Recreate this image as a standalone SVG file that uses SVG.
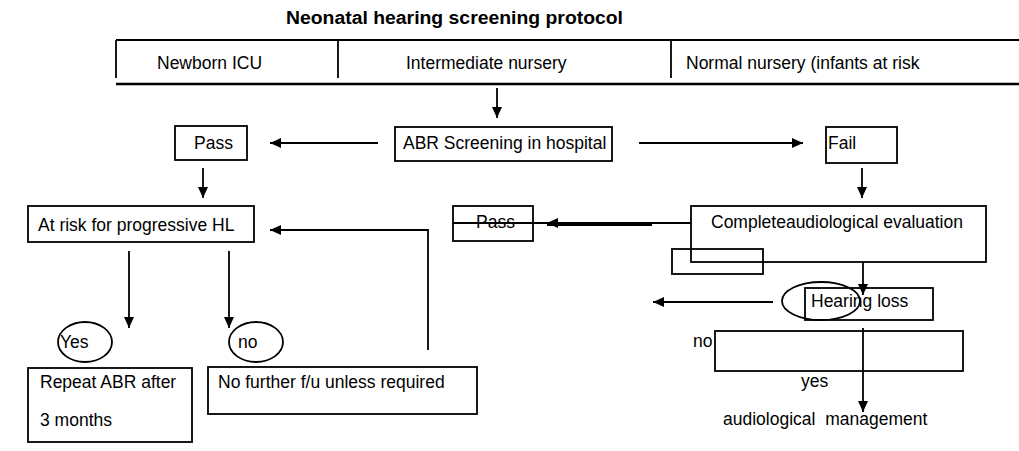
<svg xmlns="http://www.w3.org/2000/svg" width="1019" height="451" viewBox="0 0 1019 451">
<style>
.t{font-family:"Liberation Sans",Arial,sans-serif;font-size:17.5px;fill:#000}
.title{font-family:"Liberation Sans",Arial,sans-serif;font-size:18px;font-weight:bold;fill:#000}
.b{fill:none;stroke:#000;stroke-width:1.8}
.c{fill:none;stroke:#000;stroke-width:1.8}
</style>
<defs>
<marker id="ah" markerUnits="userSpaceOnUse" markerWidth="11" markerHeight="10" refX="11" refY="5" orient="auto">
<path d="M0,0 L11,5 L0,10 z" fill="#000"/>
</marker>
</defs>
<rect width="1019" height="451" fill="#fff"/>
<g id="title">
<text class="title" x="286" y="24" textLength="337" lengthAdjust="spacingAndGlyphs">Neonatal hearing screening protocol</text>
</g>
<g id="header">
<line x1="116" y1="40" x2="1019" y2="40" stroke="#000" stroke-width="1.8"/>
<line x1="116" y1="84" x2="1019" y2="84" stroke="#000" stroke-width="2.4"/>
<line x1="116" y1="40" x2="116" y2="78" stroke="#000" stroke-width="1.8"/>
<line x1="338" y1="40" x2="338" y2="78" stroke="#000" stroke-width="1.8"/>
<line x1="671" y1="40" x2="671" y2="78" stroke="#000" stroke-width="1.8"/>
<text class="t" x="157" y="69">Newborn ICU</text>
<text class="t" x="406" y="69">Intermediate nursery</text>
<text class="t" x="686" y="69">Normal nursery (infants at risk</text>
</g>
<g id="abr">
<rect class="b" x="395" y="127" width="217" height="34"/>
<text class="t" x="403" y="149">ABR Screening in hospital</text>
</g>
<g id="pass1">
<rect class="b" x="175" y="126" width="72" height="34"/>
<text class="t" x="194" y="149">Pass</text>
</g>
<g id="fail">
<rect class="b" x="826" y="127" width="71" height="36"/>
<text class="t" x="828" y="149">Fail</text>
</g>
<g id="atrisk">
<rect class="b" x="28" y="206" width="226" height="36"/>
<text class="t" x="38" y="231">At risk for progressive HL</text>
</g>
<g id="pass2">
<rect class="b" x="453" y="206" width="80" height="35"/>
<text class="t" x="476" y="228">Pass</text>
</g>
<g id="complete">
<rect class="b" x="691" y="206" width="295" height="56"/>
<text class="t" x="711" y="228">Completeaudiological evaluation</text>
</g>
<g id="smallbox">
<rect class="b" x="672" y="249" width="91" height="25"/>
</g>
<g id="hearingloss">
<rect class="b" x="805" y="288" width="128" height="32"/>
<text class="t" x="811" y="307">Hearing loss</text>
<ellipse class="b" cx="821" cy="301" rx="39" ry="19"/>
</g>
<g id="emptybox">
<rect class="b" x="715" y="331" width="248" height="40"/>
</g>
<g id="labels">
<text class="t" x="693" y="347">no</text>
<text class="t" x="801" y="387">yes</text>
<text class="t" x="723" y="425" xml:space="preserve">audiological  management</text>
</g>
<g id="yes">
<ellipse class="b" cx="85" cy="342" rx="27" ry="20"/>
<text class="t" x="60" y="348">Yes</text>
</g>
<g id="no">
<ellipse class="b" cx="256" cy="342" rx="27" ry="20"/>
<text class="t" x="238" y="348">no</text>
</g>
<g id="repeat">
<rect class="b" x="28" y="368" width="164" height="74"/>
<text class="t" x="40" y="388">Repeat ABR after</text>
<text class="t" x="40" y="426">3 months</text>
</g>
<g id="nofurther">
<rect class="b" x="208" y="367" width="269" height="47"/>
<text class="t" x="218" y="388">No further f/u unless required</text>
</g>
<g id="connectors">
<path class="c" d="M497,88 V118" marker-end="url(#ah)"/>
<path class="c" d="M378,143 H270" marker-end="url(#ah)"/>
<path class="c" d="M639,143 H803" marker-end="url(#ah)"/>
<path class="c" d="M862,168 V198" marker-end="url(#ah)"/>
<path class="c" d="M203,168 V198" marker-end="url(#ah)"/>
<path class="c" d="M691,223 H547" marker-end="url(#ah)"/>
<path class="c" d="M453,223 H547"/>
<path class="c" d="M547,225 H652" stroke-width="1.4"/>
<path class="c" d="M428,350 V230 H270" marker-end="url(#ah)"/>
<path class="c" d="M129,251 V328" marker-end="url(#ah)"/>
<path class="c" d="M229,251 V328" marker-end="url(#ah)"/>
<path class="c" d="M863,262 V295" marker-end="url(#ah)"/>
<path class="c" d="M773,302 H653" marker-end="url(#ah)"/>
<path class="c" d="M863,328 V412" marker-end="url(#ah)"/>
</g>
</svg>
